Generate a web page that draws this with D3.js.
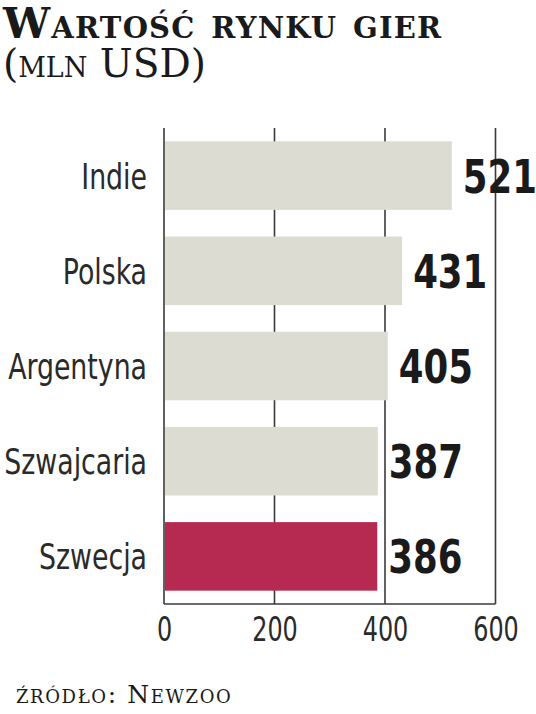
<!DOCTYPE html>
<html><head><meta charset="utf-8">
<script src="https://cdn.jsdelivr.net/npm/d3@7"></script>
<style>
body{margin:0;background:#fff;}
svg{display:block;}
</style></head>
<body>
<script>
const categories = ["Indie","Polska","Argentyna","Szwajcaria","Szwecja"];
const values = [521,431,405,387,386];
const highlight = ["Szwecja"];
const tickValues = [0,200,400,600];
const titleLine1 = "Wartość rynku gier";
const titleLine2a = "(mln ";
const titleLine2b = "USD)";
const sourceLabel = "źródło: ";
const sourceName = "Newzoo";

const W = 536, H = 714;
const svg = d3.select("body").append("svg").attr("width",W).attr("height",H);

const x = d3.scaleLinear().domain([0,600]).range([164,495.5]);
const y = d3.scaleBand().domain(categories).range([128,604]).paddingInner(0.28).paddingOuter(0.14);

const cond = "'DejaVu Sans Condensed','Liberation Sans Narrow','Roboto Condensed',sans-serif";
const serif = "'DejaVu Serif','Liberation Serif',serif";

// gridlines
svg.append("g").selectAll("line").data(tickValues).join("line")
  .attr("x1",d=>x(d)).attr("x2",d=>x(d)).attr("y1",128).attr("y2",604)
  .attr("stroke","#3a3a3a").attr("stroke-width",1.6);
svg.append("line").attr("x1",x(0)).attr("x2",x(600)).attr("y1",604).attr("y2",604)
  .attr("stroke","#3a3a3a").attr("stroke-width",1.6);

// bars
svg.append("g").selectAll("rect").data(categories).join("rect")
  .attr("x",x(0)+1).attr("y",d=>y(d))
  .attr("width",(d,i)=>x(values[i])-x(0)-1).attr("height",y.bandwidth())
  .attr("fill",d=>highlight.includes(d)?"#b62a52":"#dcdcd2");

// value labels
svg.append("g").selectAll("text").data(categories).join("text")
  .attr("transform",(d,i)=>`translate(${x(values[i])+11},${y(d)+y.bandwidth()/2+17}) scale(0.84,1)`)
  .attr("font-family",cond).attr("font-weight","bold").attr("font-size",47)
  .attr("fill","#1a1a1a").text((d,i)=>values[i]);

// category labels
svg.append("g").selectAll("text").data(categories).join("text")
  .attr("transform",d=>`translate(147,${y(d)+y.bandwidth()/2+13}) scale(0.85,1)`)
  .attr("text-anchor","end")
  .attr("font-family",cond).attr("font-size",35)
  .attr("fill","#2a2a2a").text(d=>d);

// tick labels
const axis = d3.axisBottom(x).tickValues(tickValues).tickSize(0).tickPadding(0);
const ag = svg.append("g").attr("transform","translate(0,617)").call(axis);
ag.select(".domain").remove();
ag.selectAll("text").attr("font-family",cond).attr("font-size",34).attr("fill","#2a2a2a")
  .attr("dy","0.71em").attr("transform","scale(0.78,1)");

// title
svg.append("text").attr("x",3).attr("y",38)
  .attr("font-family",serif).attr("font-weight","bold").attr("font-size",42)
  .attr("letter-spacing",1.2)
  .style("font-variant","small-caps").attr("fill","#1a1a1a").text(titleLine1);
const t2 = svg.append("text").attr("x",3).attr("y",77)
  .attr("font-family",serif).attr("font-size",39).attr("fill","#1a1a1a");
t2.append("tspan").style("font-variant","small-caps").text(titleLine2a);
t2.append("tspan").text(titleLine2b);

// source
const s = svg.append("text").attr("x",16).attr("y",703)
  .attr("font-family",serif).attr("font-size",25).attr("letter-spacing",1.6).attr("fill","#1a1a1a");
s.append("tspan").style("font-variant","small-caps").text(sourceLabel);
s.append("tspan").style("font-variant","small-caps").text(sourceName);
</script>
</body></html>
